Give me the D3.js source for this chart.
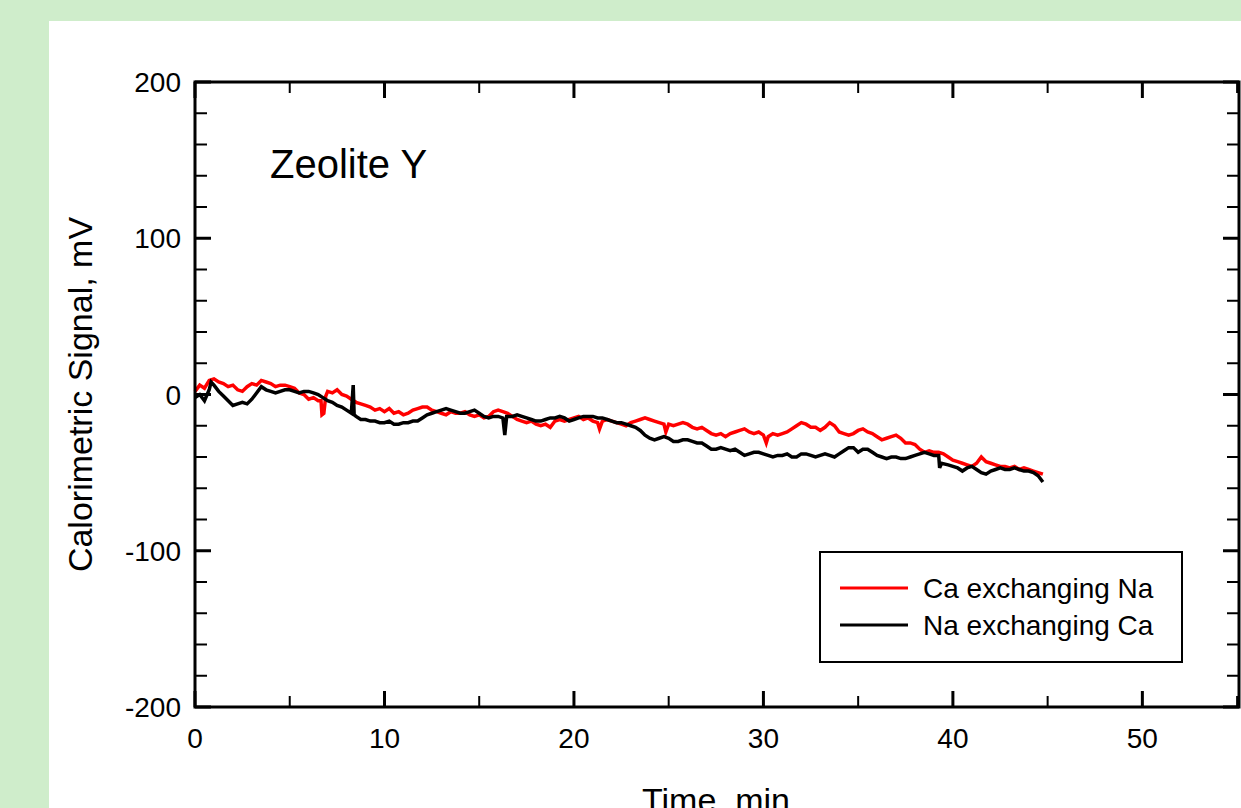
<!DOCTYPE html>
<html>
<head>
<meta charset="utf-8">
<script src="https://cdn.jsdelivr.net/npm/d3@7"></script>
<style>
  html, body { margin: 0; padding: 0; background: #cfedcb; overflow: hidden; }
  svg { display: block; }
</style>
</head>
<body>
<svg id="chart" width="1241" height="808"></svg>
<script>
// ---- Data ----
const xTicks = [0, 10, 20, 30, 40, 50];
const yTicks = [-200, -100, 0, 100, 200];
const seriesNames = ["Ca exchanging Na", "Na exchanging Ca"];
const seriesColors = ["#ff0000", "#000000"];

const redTime = [0,0.25,0.5,0.75,1,1.25,1.5,1.75,2,2.25,2.5,2.75,3,3.25,3.5,3.75,4,4.25,4.5,4.75,5,5.25,5.5,5.75,6,6.25,6.5,6.65,6.7,6.8,6.9,7,7.25,7.5,7.75,8,8.25,8.5,8.75,9,9.25,9.5,9.75,10,10.25,10.5,10.75,11,11.25,11.5,11.75,12,12.25,12.5,12.75,13,13.25,13.5,13.75,14,14.25,14.5,14.75,15,15.25,15.5,15.75,16,16.25,16.5,16.75,17,17.25,17.5,17.75,18,18.25,18.5,18.75,19,19.25,19.5,19.75,20,20.25,20.5,20.75,21,21.25,21.35,21.5,21.75,22,22.25,22.5,22.75,23,23.25,23.5,23.75,24,24.25,24.5,24.75,24.85,25,25.25,25.5,25.75,26,26.25,26.5,26.75,27,27.25,27.5,27.75,28,28.25,28.5,28.75,29,29.25,29.5,29.75,30,30.15,30.25,30.5,30.75,31,31.25,31.5,31.75,32,32.25,32.5,32.75,33,33.25,33.5,33.75,34,34.25,34.5,34.75,35,35.25,35.5,35.75,36,36.25,36.5,36.75,37,37.25,37.5,37.75,38,38.25,38.5,38.75,39,39.25,39.5,39.75,40,40.25,40.5,40.75,41,41.25,41.5,41.75,42,42.25,42.5,42.75,43,43.25,43.5,43.75,44,44.25,44.5,44.75];
const redSignal = [2,6,4,9,10,8,7,5,6,3,2,5,7,6,9,8,7,5,6,6,5,4,1,0,-3,-2,-4,-4,-13,-12,-1,2,1,3,0,-1,-3,-5,-6,-7,-8,-10,-9,-11,-9,-12,-11,-13,-12,-10,-9,-8,-8,-10,-11,-12,-13,-11,-12,-12,-11,-13,-14,-13,-15,-14,-11,-10,-11,-12,-14,-16,-17,-18,-17,-19,-20,-19,-21,-17,-16,-17,-16,-15,-14,-16,-15,-17,-18,-22,-17,-16,-17,-18,-19,-20,-18,-17,-16,-15,-16,-17,-18,-19,-24,-19,-20,-19,-18,-19,-21,-22,-21,-23,-25,-26,-25,-27,-25,-24,-23,-22,-24,-25,-24,-26,-31,-27,-25,-26,-25,-24,-22,-20,-18,-19,-21,-21,-23,-21,-18,-20,-24,-25,-26,-25,-23,-22,-24,-25,-27,-29,-28,-27,-26,-28,-31,-31,-32,-35,-37,-36,-37,-37,-38,-40,-42,-43,-44,-45,-46,-44,-40,-43,-44,-45,-46,-46,-47,-46,-48,-47,-48,-49,-50,-51];

const blackTime = [0,0.25,0.5,0.75,0.85,1,1.25,1.5,1.75,2,2.25,2.5,2.75,3,3.25,3.5,3.75,4,4.25,4.5,4.75,5,5.25,5.5,5.75,6,6.25,6.5,6.75,7,7.25,7.5,7.75,8,8.25,8.35,8.4,8.5,8.75,9,9.25,9.5,9.75,10,10.25,10.5,10.75,11,11.25,11.5,11.75,12,12.25,12.5,12.75,13,13.25,13.5,13.75,14,14.25,14.5,14.75,15,15.25,15.5,15.75,16,16.25,16.35,16.45,16.75,17,17.25,17.5,17.75,18,18.25,18.5,18.75,19,19.25,19.5,19.75,20,20.25,20.5,20.75,21,21.25,21.5,21.75,22,22.25,22.5,22.75,23,23.25,23.5,23.75,24,24.25,24.5,24.75,25,25.25,25.5,25.75,26,26.25,26.5,26.75,27,27.25,27.5,27.75,28,28.25,28.5,28.75,29,29.25,29.5,29.75,30,30.25,30.5,30.75,31,31.25,31.5,31.75,32,32.25,32.5,32.75,33,33.25,33.5,33.75,34,34.25,34.5,34.75,35,35.25,35.5,35.75,36,36.25,36.5,36.75,37,37.25,37.5,37.75,38,38.25,38.5,38.75,39,39.25,39.3,39.4,39.75,40,40.25,40.5,40.75,41,41.25,41.5,41.75,42,42.25,42.5,42.75,43,43.25,43.5,43.75,44,44.25,44.5,44.75];
const blackSignal = [-2,0,-4,3,8,6,2,-1,-4,-7,-6,-5,-6,-3,1,5,3,2,1,2,3,3,2,1,2,2,1,0,-2,-4,-5,-7,-8,-10,-12,6,-13,-14,-16,-16,-17,-17,-18,-18,-17,-19,-19,-18,-18,-17,-17,-15,-13,-12,-11,-10,-9,-10,-11,-12,-12,-11,-10,-12,-14,-15,-14,-14,-15,-26,-14,-14,-13,-14,-15,-16,-17,-17,-16,-15,-15,-14,-15,-17,-16,-15,-14,-14,-14,-15,-15,-16,-17,-18,-18,-19,-20,-21,-23,-26,-28,-29,-28,-27,-28,-30,-30,-29,-29,-30,-31,-31,-33,-35,-35,-34,-35,-36,-35,-37,-39,-38,-37,-37,-38,-39,-40,-39,-39,-38,-40,-40,-38,-38,-39,-40,-39,-38,-39,-40,-38,-36,-34,-34,-37,-35,-35,-37,-39,-40,-41,-40,-40,-41,-41,-40,-39,-38,-37,-38,-39,-39,-47,-44,-45,-46,-47,-49,-47,-46,-48,-50,-51,-49,-48,-47,-48,-48,-47,-48,-49,-49,-50,-52,-56];

// ---- Layout ----
const svg = d3.select("#chart");
const W = 1241, H = 808;
const plot = { left: 195, top: 82, right: 1239, bottom: 707 };

svg.append("rect").attr("x", 0).attr("y", 0).attr("width", W).attr("height", H).attr("fill", "#cfedcb");
svg.append("rect").attr("x", 49).attr("y", 21).attr("width", W - 49).attr("height", H - 21).attr("fill", "#ffffff");

const x = d3.scaleLinear().domain([0, 55.1]).range([plot.left, plot.right]);
const y = d3.scaleLinear().domain([-200, 200]).range([plot.bottom, plot.top]);

const font = "'Liberation Sans', Arial, Helvetica, sans-serif";

// Series
const line = d3.line().x(d => x(d[0])).y(d => y(d[1]));
const series = [
  d3.zip(redTime, redSignal),
  d3.zip(blackTime, blackSignal)
];
series.forEach((pts, i) => {
  svg.append("path")
    .datum(pts)
    .attr("fill", "none")
    .attr("stroke", seriesColors[i])
    .attr("stroke-width", 3.5)
    .attr("stroke-linejoin", "miter")
    .attr("d", line);
});

// Ticks (inward, all four sides)
const xMinor = d3.range(0, 55.01, 5).filter(v => v % 10 !== 0);
const yMinor = d3.range(-200, 200.01, 20).filter(v => v % 100 !== 0);
const g = svg.append("g").attr("stroke", "#000");

function xTick(v, len, w) {
  g.append("line").attr("x1", x(v)).attr("x2", x(v)).attr("y1", plot.bottom).attr("y2", plot.bottom - len).attr("stroke-width", w);
  g.append("line").attr("x1", x(v)).attr("x2", x(v)).attr("y1", plot.top).attr("y2", plot.top + len).attr("stroke-width", w);
}
function yTick(v, len, w) {
  g.append("line").attr("y1", y(v)).attr("y2", y(v)).attr("x1", plot.left).attr("x2", plot.left + len).attr("stroke-width", w);
  g.append("line").attr("y1", y(v)).attr("y2", y(v)).attr("x1", plot.right).attr("x2", plot.right - len).attr("stroke-width", w);
}
xTicks.forEach(v => xTick(v, 16, 3));
xMinor.forEach(v => xTick(v, 11, 2));
yTicks.forEach(v => yTick(v, 16, 3));
yMinor.forEach(v => yTick(v, 12, 2));

// Frame
svg.append("rect")
  .attr("x", plot.left).attr("y", plot.top)
  .attr("width", plot.right - plot.left).attr("height", plot.bottom - plot.top)
  .attr("fill", "none").attr("stroke", "#000").attr("stroke-width", 3);

// Tick labels
svg.append("g").selectAll("text").data(xTicks).join("text")
  .attr("x", d => x(d)).attr("y", 748)
  .attr("text-anchor", "middle")
  .attr("font-family", font).attr("font-size", 28).attr("fill", "#000")
  .text(d => d);
svg.append("g").selectAll("text").data(yTicks).join("text")
  .attr("x", 181).attr("y", d => y(d) + 10)
  .attr("text-anchor", "end")
  .attr("font-family", font).attr("font-size", 28).attr("fill", "#000")
  .text(d => d);

// Axis titles
svg.append("text")
  .attr("transform", `translate(92, ${(plot.top + plot.bottom) / 2}) rotate(-90)`)
  .attr("text-anchor", "middle")
  .attr("font-family", font).attr("font-size", 34).attr("fill", "#000")
  .text("Calorimetric Signal, mV");
svg.append("text")
  .attr("x", 716).attr("y", 812)
  .attr("text-anchor", "middle")
  .attr("font-family", font).attr("font-size", 34).attr("fill", "#000")
  .text("Time, min");

// Annotation
svg.append("text")
  .attr("x", 270).attr("y", 178)
  .attr("font-family", font).attr("font-size", 40).attr("fill", "#000")
  .text("Zeolite Y");

// Legend
const leg = svg.append("g");
leg.append("rect").attr("x", 820).attr("y", 552).attr("width", 362).attr("height", 110)
  .attr("fill", "#fff").attr("stroke", "#000").attr("stroke-width", 2);
seriesNames.forEach((name, i) => {
  const ly = 588 + i * 37;
  leg.append("line").attr("x1", 840).attr("x2", 908).attr("y1", ly).attr("y2", ly)
    .attr("stroke", seriesColors[i]).attr("stroke-width", 3);
  leg.append("text").attr("x", 923).attr("y", ly + 10)
    .attr("font-family", font).attr("font-size", 28).attr("fill", "#000")
    .text(name);
});
</script>
</body>
</html>
